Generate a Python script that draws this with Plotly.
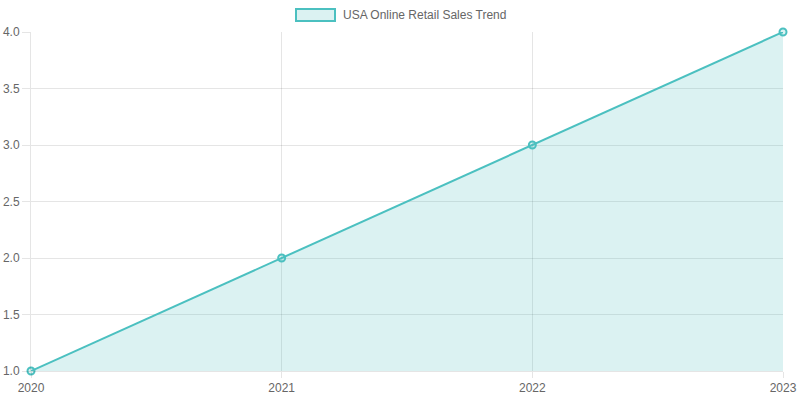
import plotly.graph_objects as go

years = [2020, 2021, 2022, 2023]
sales = [1, 2, 3, 4]
series_name = "USA Online Retail Sales Trend"

line_color = "rgb(75,192,192)"
fill_color = "rgba(75,192,192,0.2)"
grid_color = "rgba(0,0,0,0.1)"
font = dict(family="Liberation Sans, Arial, Helvetica, sans-serif", size=12, color="#666")

fig = go.Figure()
fig.add_trace(go.Scatter(
    x=years, y=sales, name=series_name, mode="lines+markers",
    fill="tozeroy", fillcolor=fill_color,
    line=dict(color=line_color, width=2),
    marker=dict(size=7, color=fill_color, line=dict(color=line_color, width=2)),
    cliponaxis=False, showlegend=False,
))

# plot area spans page x 31..783, y 32..371
fig.update_layout(
    width=800, height=400,
    margin=dict(l=31, r=17, t=32, b=29),
    paper_bgcolor="white", plot_bgcolor="white",
    font=font,
    xaxis=dict(range=[2020, 2023], tickvals=years, ticktext=[str(y) for y in years],
               showgrid=True, gridcolor=grid_color, gridwidth=1, automargin=False,
               zeroline=False, showline=True, linecolor=grid_color, linewidth=1,
               ticks="outside", ticklen=6, tickcolor=grid_color),
    yaxis=dict(range=[1, 4], dtick=0.5, tick0=1, tickformat=".1f", automargin=False,
               showgrid=True, gridcolor=grid_color, gridwidth=1,
               zeroline=False, showline=True, linecolor=grid_color, linewidth=1,
               ticks="outside", ticklen=8, tickcolor=grid_color),
    shapes=[dict(type="rect", xref="paper", yref="paper",
                 x0=(296 - 31) / 752, x1=(335 - 31) / 752,
                 y0=(371 - 21) / 339, y1=(371 - 9) / 339,
                 line=dict(color=line_color, width=2), fillcolor=fill_color)],
    annotations=[dict(text=series_name, xref="paper", yref="paper",
                      x=(341 - 31) / 752, y=(371 - 15) / 339,
                      xanchor="left", yanchor="middle", showarrow=False,
                      font=font)],
)

fig.write_html("out.html", config={"displayModeBar": False},
               post_script="document.body.style.margin='0';document.body.style.overflow='hidden';")
